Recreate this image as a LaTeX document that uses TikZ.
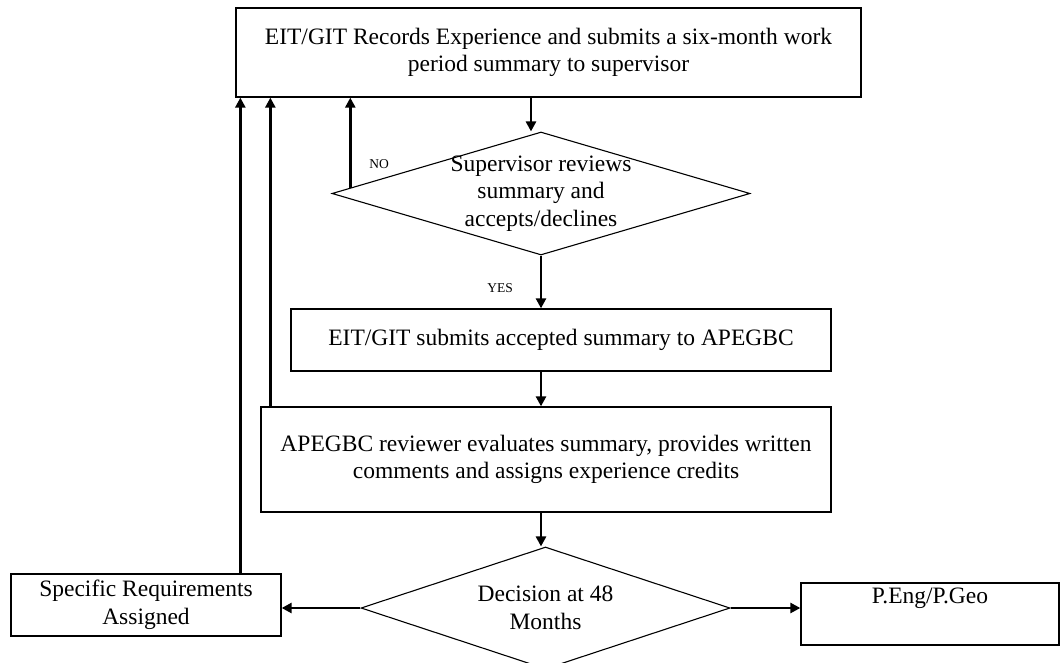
\documentclass[tikz,border=0pt]{standalone}
\usepackage{fontspec}
\setmainfont{Liberation Serif}
\usetikzlibrary{arrows.meta,shapes.geometric,calc}
\begin{document}
\begin{tikzpicture}[x=1pt,y=-1pt,
  every node/.style={font=\fontsize{23.5}{27.5}\selectfont},
  box/.style={draw, line width=1.3pt, rectangle, inner sep=0pt, align=center},
  decision/.style={draw, line width=1.1pt, diamond, inner sep=-4pt, align=center},
  arr/.style={line width=2.5pt, -{Triangle[length=10pt,width=10pt]}},
  small/.style={font=\fontsize{13.5}{15}\selectfont, inner sep=0pt}]
\useasboundingbox (0,0) rectangle (1062,663);
\node[box, minimum width=625pt, minimum height=89pt] (top) at (548.5,52.5)
  {EIT/GIT Records Experience and submits a six-month work\\period summary to supervisor};
\node[decision, aspect=3.4, minimum width=418pt, minimum height=123pt] (d1) at (541,193.5)
  {Supervisor reviews\\summary and\\accepts/declines};
\node[box, minimum width=540pt, minimum height=62pt] (b2) at (561,340)
  {EIT/GIT submits accepted summary to APEGBC};
\node[box, minimum width=570pt, minimum height=105pt] (b3) at (546,459.5)
  {APEGBC reviewer evaluates summary, provides written\\comments and assigns experience credits};
\node[decision, aspect=3.02, minimum width=369pt, minimum height=122pt] (d2) at (545.5,608)
  {Decision at 48\\Months};
\node[box, minimum width=270pt, minimum height=62pt] (spec) at (146,605)
  {Specific Requirements\\Assigned};
\node[box, minimum width=258pt, minimum height=62pt] (peng) at (930,614)
  {P.Eng/P.Geo\\\strut};
\node[small] (no) at (379,164) {NO};
\node[small] (yes) at (500,288) {YES};
% main flow
\coordinate (d1in) at ($(d1.north)+(-10,0)$);
\draw[arr] (top.south -| d1in) -- (d1in);
\draw[arr] (d1.south) -- (d1.south |- b2.north);
\draw[arr] (b2.south -| d1.south) -- (d1.south |- b3.north);
\draw[arr] (b3.south -| d1.south) -- (d1.south |- d2.north);
\draw[arr] (d2.west) -- (spec.east |- d2.west);
\draw[arr] (d2.east) -- (peng.west |- d2.east);
% feedback lines
\coordinate (nostart) at ($(d1.west)!0.09!(d1.north)$);
\draw[arr] (nostart) -- (nostart |- top.south);
\coordinate (b3start) at ($(b3.north west)+(10,0)$);
\draw[arr] (b3start) -- (b3start |- top.south);
\coordinate (specstart) at ($(spec.north west)+(230,0)$);
\draw[arr] (specstart) -- (specstart |- top.south);
\end{tikzpicture}
\end{document}
